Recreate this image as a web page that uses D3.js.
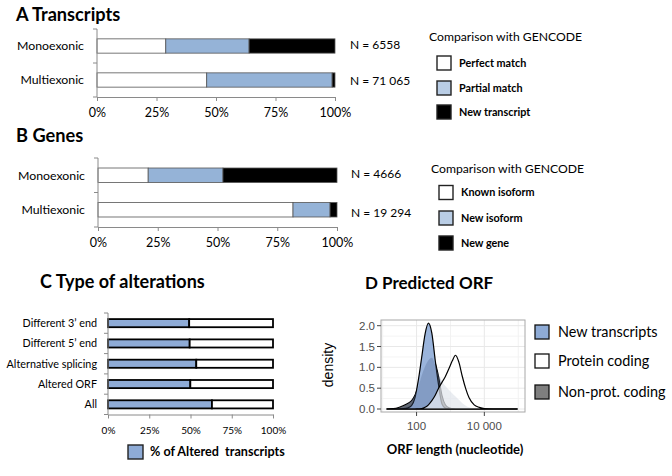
<!DOCTYPE html>
<html><head><meta charset="utf-8">
<script src="https://cdn.jsdelivr.net/npm/d3@7"></script>
<style>body{margin:0;background:#fff} svg{display:block}</style>
</head><body><svg id="chart" width="672" height="476"></svg>
<script>
// ---------- DATA ----------
const barCategories = ["Monoexonic", "Multiexonic"];
const percentTicks = [0, 25, 50, 75, 100];
const percentTickLabels = ["0%", "25%", "50%", "75%", "100%"];

const transcriptSeries = ["Perfect match", "Partial match", "New transcript"];
const transcriptPerfect = [28.9, 46.1];
const transcriptPartial = [35.0, 52.7];
const transcriptNew = [36.1, 1.2];
const transcriptN = ["N = 6558", "N = 71 065"];

const geneSeries = ["Known isoform", "New isoform", "New gene"];
const geneKnown = [21.0, 81.6];
const geneNewIsoform = [31.3, 15.5];
const geneNew = [47.7, 2.9];
const geneN = ["N = 4666", "N = 19 294"];

const alterationCategories = ["Different 3\u2019 end", "Different 5\u2019 end", "Alternative splicing", "Altered ORF", "All"];
const alteredPct = [49.2, 49.5, 53.5, 49.9, 63.0];
const alteredLegend = "% of Altered  transcripts";

const orfSeries = ["New transcripts", "Protein coding", "Non-prot. coding"];
const orfLengths = [13, 20, 28, 40, 56, 71, 89, 112, 141, 178, 224, 282, 355, 447, 562, 708, 891, 1122, 1413, 1778, 2239, 2818, 3548, 5012, 7079, 10000, 19953, 95499];
const densityNew =      [0, 0, 0.005, 0.01, 0.03, 0.08, 0.26, 0.68, 1.23, 1.8, 2.06, 1.82, 1.17, 0.57, 0.12, 0.02, 0.01, 0, 0, 0, 0, 0, 0, 0, 0, 0, 0, 0];
const densityNonProt =  [0, 0.01, 0.03, 0.08, 0.14, 0.2, 0.33, 0.55, 0.82, 1.03, 1.18, 1.24, 1.1, 0.78, 0.33, 0.1, 0.03, 0.01, 0, 0, 0, 0, 0, 0, 0, 0, 0, 0];
const densityFaded =    [0, 0.005, 0.02, 0.06, 0.13, 0.2, 0.33, 0.52, 0.8, 1.02, 1.17, 1.23, 1.05, 0.82, 0.66, 0.55, 0.46, 0.38, 0.3, 0.22, 0.14, 0.08, 0.04, 0.01, 0, 0, 0, 0];
const densityProtein =  [0, 0, 0, 0, 0, 0, 0, 0.005, 0.01, 0.04, 0.1, 0.2, 0.33, 0.5, 0.64, 0.78, 0.96, 1.15, 1.29, 1.12, 0.78, 0.49, 0.27, 0.1, 0.04, 0.01, 0, 0];
const orfTicks = [100, 10000];
const orfTickLabels = ["100", "10 000"];
const orfMinorGrid = [10, 1000, 100000];
const densityTicks = [0, 0.5, 1, 1.5, 2];
const densityTickLabels = ["0.0", "0.5", "1.0", "1.5", "2.0"];
const densityMinorGrid = [0.25, 0.75, 1.25, 1.75];

// ---------- DRAW ----------
const svg = d3.select("#chart");
const FONT = "Lato, 'Open Sans', sans-serif";
const AXIS_GRAY = "#8a8a8a";
const BAR_BLUE = "#95b3d7";

function title(txt, x, y, size) {
  svg.append("text").attr("x", x).attr("y", y).attr("font-family", FONT)
    .attr("font-weight", "bold").attr("font-size", size).attr("fill", "#000").text(txt);
}

function stackedPanel(cfg) {
  const x = d3.scaleLinear().domain([0, 100]).range([cfg.x0, cfg.x1]);
  const y = d3.scaleBand().domain(barCategories).range([cfg.yTop, cfg.yBottom])
    .paddingInner(0.58).paddingOuter(0.29);
  const g = svg.append("g");
  const rows = barCategories.map((c, i) => {
    const r = { cat: c };
    cfg.series.forEach((s, k) => r[s] = cfg.values[k][i]);
    return r;
  });
  const stacked = d3.stack().keys(cfg.series)(rows);
  const fills = ["#ffffff", BAR_BLUE, "#000000"];
  stacked.forEach((layer, k) => {
    g.selectAll(null).data(layer).join("rect")
      .attr("x", d => x(d[0])).attr("width", d => x(d[1]) - x(d[0]))
      .attr("y", d => y(d.data.cat)).attr("height", y.bandwidth())
      .attr("fill", fills[k]).attr("stroke", "#555").attr("stroke-width", 0.8);
  });
  const bounds = [cfg.yTop].concat(barCategories.map(c => y(c) + y.bandwidth() + (y.step() - y.bandwidth()) / 2));
  g.append("line").attr("x1", cfg.x0).attr("x2", cfg.x0).attr("y1", cfg.yTop).attr("y2", cfg.yBottom)
    .attr("stroke", AXIS_GRAY);
  g.selectAll(null).data(bounds).join("line")
    .attr("x1", cfg.x0 - 4).attr("x2", cfg.x0).attr("y1", d => d).attr("y2", d => d).attr("stroke", AXIS_GRAY);
  g.selectAll(null).data(barCategories).join("text")
    .attr("x", cfg.x0 - 13).attr("y", d => y(d) + y.bandwidth() / 2).attr("dy", "0.35em")
    .attr("text-anchor", "end").attr("font-family", FONT).attr("font-size", 12.3).text(d => d);
  const ax = g.append("g").attr("transform", `translate(0,${cfg.yBottom})`)
    .call(d3.axisBottom(x).tickValues(percentTicks).tickFormat((d, i) => percentTickLabels[i]).tickSize(4).tickSizeOuter(0));
  ax.select(".domain").attr("stroke", AXIS_GRAY);
  ax.selectAll(".tick line").attr("stroke", AXIS_GRAY);
  ax.selectAll(".tick text").attr("font-family", FONT).attr("font-size", 12.5).attr("fill", "#000").attr("dy", "1.0em");
  g.selectAll(null).data(cfg.nLabels).join("text")
    .attr("x", cfg.nX).attr("y", (d, i) => y(barCategories[i]) + y.bandwidth() / 2 + cfg.nOffset[i]).attr("dy", "0.35em")
    .attr("font-family", FONT).attr("font-size", 12).text(d => d);
  const lg = svg.append("g");
  lg.append("text").attr("x", cfg.legX).attr("y", cfg.legTitleY).attr("font-family", FONT)
    .attr("font-size", 12.2).text("Comparison with GENCODE");
  const legFills = ["#ffffff", "#b9cde5", "#000000"];
  cfg.series.forEach((s, k) => {
    const yy = cfg.legRowY[k];
    lg.append("rect").attr("x", cfg.legX + 8).attr("y", yy - 7).attr("width", 14).attr("height", 14)
      .attr("fill", legFills[k]).attr("stroke", "#222").attr("stroke-width", 1.4);
    lg.append("text").attr("x", cfg.legX + 30).attr("y", yy).attr("dy", "0.35em").attr("font-family", FONT)
      .attr("font-weight", "bold").attr("font-size", 10.8).text(s);
  });
}

// Panel A
title("A Transcripts", 16, 21, 18.2);
stackedPanel({
  series: transcriptSeries, values: [transcriptPerfect, transcriptPartial, transcriptNew],
  nLabels: transcriptN, x0: 97, x1: 335, yTop: 29, yBottom: 97, nX: 350, nOffset: [-1, 1],
  legX: 429, legTitleY: 41, legRowY: [63, 88, 112]
});

// Panel B
title("B Genes", 16, 142, 18.2);
stackedPanel({
  series: geneSeries, values: [geneKnown, geneNewIsoform, geneNew],
  nLabels: geneN, x0: 98, x1: 337, yTop: 158, yBottom: 227, nX: 351, nOffset: [-1, 3],
  legX: 431, legTitleY: 173, legRowY: [192.5, 218, 243]
});

// Panel C
title("C Type of alterations", 40, 288, 18);
(function () {
  const x0 = 108, x1 = 273, yTop = 313, yBottom = 414.5;
  const x = d3.scaleLinear().domain([0, 100]).range([x0, x1]);
  const y = d3.scaleBand().domain(alterationCategories).range([yTop, yBottom]).paddingInner(0.6).paddingOuter(0.3);
  const g = svg.append("g");
  const rows = alterationCategories.map((c, i) => ({ cat: c, altered: alteredPct[i], rest: 100 - alteredPct[i] }));
  const stacked = d3.stack().keys(["altered", "rest"])(rows);
  const fills = ["#8eabd6", "#ffffff"];
  stacked.forEach((layer, k) => {
    g.selectAll(null).data(layer).join("rect")
      .attr("x", d => x(d[0])).attr("width", d => x(d[1]) - x(d[0]))
      .attr("y", d => y(d.data.cat)).attr("height", y.bandwidth())
      .attr("fill", fills[k]).attr("stroke", "#000").attr("stroke-width", 1.8);
  });
  const bounds = [yTop].concat(alterationCategories.map(c => y(c) + y.bandwidth() + (y.step() - y.bandwidth()) / 2));
  g.append("line").attr("x1", x0).attr("x2", x0).attr("y1", yTop).attr("y2", yBottom).attr("stroke", AXIS_GRAY);
  g.selectAll(null).data(bounds).join("line")
    .attr("x1", x0 - 4).attr("x2", x0).attr("y1", d => d).attr("y2", d => d).attr("stroke", AXIS_GRAY);
  g.selectAll(null).data(alterationCategories).join("text")
    .attr("x", x0 - 11).attr("y", d => y(d) + y.bandwidth() / 2).attr("dy", "0.35em")
    .attr("text-anchor", "end").attr("font-family", FONT).attr("font-size", 10.8).text(d => d);
  const ax = g.append("g").attr("transform", `translate(0,${yBottom})`)
    .call(d3.axisBottom(x).tickValues(percentTicks).tickFormat((d, i) => percentTickLabels[i]).tickSize(4).tickSizeOuter(0));
  ax.select(".domain").attr("stroke", AXIS_GRAY);
  ax.selectAll(".tick text").attr("font-family", FONT).attr("font-size", 10).attr("fill", "#000").attr("dy", "1.2em");
  ax.selectAll(".tick line").attr("stroke", AXIS_GRAY);
  svg.append("rect").attr("x", 128).attr("y", 445).attr("width", 15).attr("height", 14)
    .attr("fill", "#8eabd6").attr("stroke", "#222").attr("stroke-width", 1.4);
  svg.append("text").attr("x", 150).attr("y", 452).attr("dy", "0.35em").attr("font-family", FONT)
    .attr("font-weight", "bold").attr("font-size", 12.6).style("white-space", "pre").text(alteredLegend);
})();

// Panel D
title("D Predicted ORF", 365, 289, 17);
(function () {
  const px0 = 381, px1 = 525, py0 = 320, py1 = 412;
  const x = d3.scaleLog().domain([Math.pow(10, 0.95), Math.pow(10, 5.2)]).range([px0, px1]);
  const y = d3.scaleLinear().domain([0, 2]).range([409, 325.7]);
  const g = svg.append("g");
  g.append("defs").append("clipPath").attr("id", "clipD").append("rect")
    .attr("x", px0).attr("y", py0).attr("width", px1 - px0).attr("height", py1 - py0);
  const grid = g.append("g");
  grid.selectAll(null).data(densityMinorGrid).join("line")
    .attr("x1", px0).attr("x2", px1).attr("y1", d => y(d)).attr("y2", d => y(d)).attr("stroke", "#f4f4f4");
  grid.selectAll(null).data(orfMinorGrid).join("line")
    .attr("y1", py0).attr("y2", py1).attr("x1", d => x(d)).attr("x2", d => x(d)).attr("stroke", "#f2f2f2");
  grid.selectAll(null).data(densityTicks).join("line")
    .attr("x1", px0).attr("x2", px1).attr("y1", d => y(d)).attr("y2", d => y(d)).attr("stroke", "#e8e8e8");
  grid.selectAll(null).data(orfTicks).join("line")
    .attr("y1", py0).attr("y2", py1).attr("x1", d => x(d)).attr("x2", d => x(d)).attr("stroke", "#e8e8e8");

  const area = d3.area().x(d => x(d.len)).y0(y(0)).y1(d => y(d.v)).curve(d3.curveMonotoneX);
  const pts = arr => orfLengths.map((len, i) => ({ len, v: arr[i] }));
  const plot = g.append("g").attr("clip-path", "url(#clipD)");
  plot.append("path").attr("d", area(pts(densityNonProt))).attr("fill", "#6a6a6a").attr("stroke", "#000").attr("stroke-width", 1.1);
  plot.append("path").attr("d", area(pts(densityNew))).attr("fill", "#9ab4db").attr("stroke", "#000").attr("stroke-width", 1.2);
  plot.append("path").attr("d", area(pts(densityFaded))).attr("fill", "#4f6890").attr("fill-opacity", 0.3).attr("stroke", "none");
  plot.append("path").attr("d", area(pts(densityProtein))).attr("fill", "#ffffff").attr("fill-opacity", 0.6).attr("stroke", "#000").attr("stroke-width", 1.2);

  g.append("rect").attr("x", px0).attr("y", py0).attr("width", px1 - px0).attr("height", py1 - py0)
    .attr("fill", "none").attr("stroke", "#a8a8a8");
  g.selectAll(null).data(densityTicks).join("line")
    .attr("x1", px0 - 4).attr("x2", px0).attr("y1", d => y(d)).attr("y2", d => y(d)).attr("stroke", "#444");
  g.selectAll(null).data(densityTicks).join("text")
    .attr("x", px0 - 6).attr("y", d => y(d)).attr("dy", "0.35em").attr("text-anchor", "end")
    .attr("font-family", "'Liberation Sans', Arial, sans-serif").attr("font-size", 11.5).attr("fill", "#4d4d4d")
    .text((d, i) => densityTickLabels[i]);
  g.selectAll(null).data(orfTicks).join("line")
    .attr("x1", d => x(d)).attr("x2", d => x(d)).attr("y1", py1).attr("y2", py1 + 4).attr("stroke", "#444");
  g.selectAll(null).data(orfTicks).join("text")
    .attr("x", d => x(d)).attr("y", 430).attr("text-anchor", "middle")
    .attr("font-family", "'Liberation Sans', Arial, sans-serif").attr("font-size", 11.5).attr("fill", "#4d4d4d")
    .text((d, i) => orfTickLabels[i]);
  svg.append("text").attr("x", 455).attr("y", 454).attr("text-anchor", "middle").attr("font-family", FONT)
    .attr("font-weight", "bold").attr("font-size", 13).text("ORF length (nucleotide)");
  svg.append("text").attr("transform", "translate(333,365) rotate(-90)").attr("text-anchor", "middle")
    .attr("font-family", "'Liberation Sans', Arial, sans-serif").attr("font-size", 14).text("density");
  const legFills = ["#8eabd6", "#ffffff", "#7f7f7f"];
  const legY = [332, 361, 392];
  orfSeries.forEach((s, k) => {
    svg.append("rect").attr("x", 535).attr("y", legY[k] - 7).attr("width", 14).attr("height", 14)
      .attr("fill", legFills[k]).attr("stroke", "#111").attr("stroke-width", 1.3);
    svg.append("text").attr("x", 558).attr("y", legY[k]).attr("dy", "0.35em").attr("font-family", FONT)
      .attr("font-size", 14.4).text(s);
  });
})();
</script></body></html>
